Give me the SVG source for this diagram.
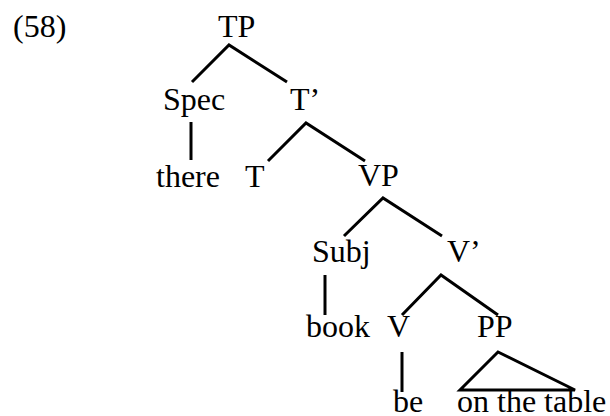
<svg xmlns="http://www.w3.org/2000/svg" width="610" height="416" viewBox="0 0 610 416">
<style>
text{font-family:"Liberation Serif","Times New Roman",serif;font-size:32px;fill:#000}
.e{stroke:#000;stroke-width:3;fill:none;stroke-linejoin:miter}
</style>
<rect width="610" height="416" fill="#fff"/>
<text id="label" x="13" y="37">(58)</text>
<g id="connectors">
<polyline class="e" points="192,82 229,45 287,82"/>
<line class="e" x1="191" y1="122" x2="191" y2="160"/>
<polyline class="e" points="268,161 306,123 365,161"/>
<polyline class="e" points="344,236 383,198 442,236"/>
<line class="e" x1="325" y1="275" x2="325" y2="315"/>
<polyline class="e" points="402,315 441,275 498,315"/>
<line class="e" x1="402" y1="352" x2="402" y2="392"/>
<polygon class="e" points="498,352 460,390 575,390"/>
</g>
<g id="TP"><text x="218" y="37">TP</text></g>
<g id="Spec"><text x="163" y="110">Spec</text></g>
<g id="Tbar"><text x="290" y="110">T’</text></g>
<g id="there"><text x="156" y="187">there</text></g>
<g id="T"><text x="245" y="187">T</text></g>
<g id="VP"><text x="358" y="186">VP</text></g>
<g id="Subj"><text x="312" y="262">Subj</text></g>
<g id="Vbar"><text x="447" y="262">V’</text></g>
<g id="book"><text x="306" y="337">book</text></g>
<g id="V"><text x="387" y="337">V</text></g>
<g id="PP"><text x="477" y="337">PP</text></g>
<g id="be"><text x="393" y="412">be</text></g>
<g id="onthetable"><text x="457" y="412">on the table</text></g>
</svg>
